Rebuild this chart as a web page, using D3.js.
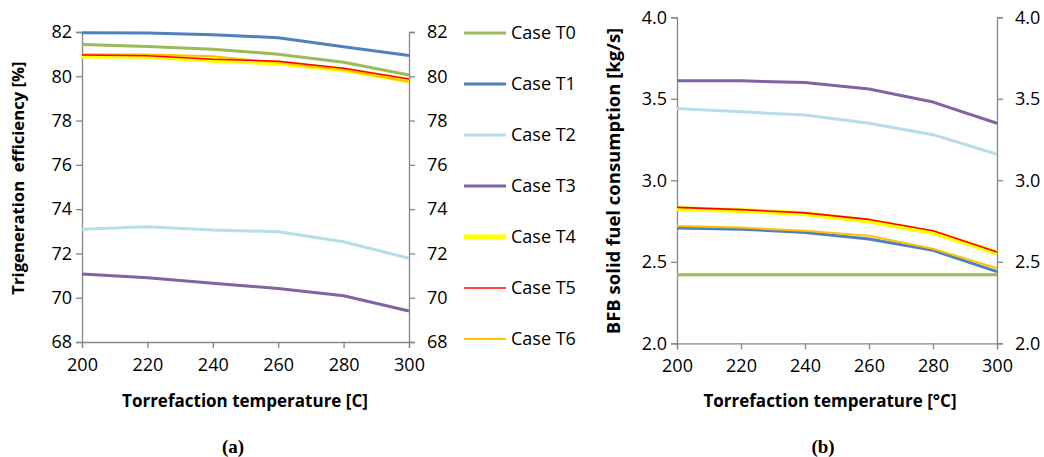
<!DOCTYPE html>
<html>
<head>
<meta charset="utf-8">
<script src="https://cdn.jsdelivr.net/npm/d3@7"></script>
<style>
  body { margin: 0; background: #fff; }
  svg { display: block; }
</style>
</head>
<body>
<svg id="chart" width="1044" height="457"></svg>
<script>
// torrefaction temperature
const temps = [200, 220, 240, 260, 280, 300];
const caseNames = ["Case T0", "Case T1", "Case T2", "Case T3", "Case T4", "Case T5", "Case T6"];

// (a) trigeneration efficiency [%]
const effT0 = [81.44, 81.34, 81.22, 81.0, 80.63, 80.06];
const effT1 = [81.97, 81.95, 81.88, 81.74, 81.33, 80.94];
const effT2 = [73.09, 73.21, 73.06, 72.98, 72.53, 71.78];
const effT3 = [71.07, 70.9, 70.65, 70.42, 70.09, 69.4];
const effT4 = [80.92, 80.9, 80.72, 80.6, 80.3, 79.8];
const effT5 = [80.96, 80.93, 80.77, 80.68, 80.36, 79.88];
const effT6 = [81.0, 80.98, 80.9, 80.62, 80.3, 79.75];

// (b) BFB solid fuel consumption [kg/s]
const fuelT0 = [2.42, 2.42, 2.42, 2.42, 2.42, 2.42];
const fuelT1 = [2.707, 2.70, 2.68, 2.64, 2.57, 2.44];
const fuelT2 = [3.44, 3.42, 3.40, 3.35, 3.28, 3.16];
const fuelT3 = [3.61, 3.61, 3.60, 3.56, 3.48, 3.35];
const fuelT4 = [2.825, 2.815, 2.795, 2.75, 2.68, 2.555];
const fuelT5 = [2.834, 2.82, 2.80, 2.76, 2.69, 2.56];
const fuelT6 = [2.72, 2.71, 2.69, 2.66, 2.58, 2.46];

const effTicks = [68, 70, 72, 74, 76, 78, 80, 82];
const fuelTicks = [2.0, 2.5, 3.0, 3.5, 4.0];

const colors = ["#9BBB59", "#4F81BD", "#B7DDE8", "#8064A2", "#FFFF00", "#FF0000", "#FFC000"];
const widths = [3, 3, 3, 3, 5, 1.6, 2];
// drawing order so thin lines stay on top
const order = [2, 3, 0, 1, 4, 6, 5];

const svg = d3.select("#chart");
const axisColor = "#868686";
const font = "'Open Sans', 'Noto Sans', sans-serif";

function drawPanel(cfg) {
  const x = d3.scaleLinear().domain([200, 300]).range([cfg.left, cfg.right]);
  const y = d3.scaleLinear().domain(cfg.domain).range([cfg.bottom, cfg.top]);
  const g = svg.append("g");

  const styleAxis = sel => {
    sel.select(".domain").attr("stroke", axisColor).attr("stroke-width", 1.3);
    sel.selectAll(".tick line").attr("stroke", axisColor).attr("stroke-width", 1.3);
    sel.selectAll(".tick text").attr("fill", "#000").style("font-family", font).style("font-size", "18px");
  };

  g.append("g").attr("transform", `translate(${cfg.left},0)`)
    .call(d3.axisLeft(y).tickValues(cfg.ticks).tickFormat(cfg.fmt).tickSizeOuter(0).tickSize(6).tickPadding(4))
    .call(styleAxis);
  g.append("g").attr("transform", `translate(${cfg.right},0)`)
    .call(d3.axisRight(y).tickValues(cfg.ticks).tickFormat(cfg.fmt).tickSizeOuter(0).tickSize(6).tickPadding(12))
    .call(styleAxis);
  g.append("g").attr("transform", `translate(0,${cfg.bottom})`)
    .call(d3.axisBottom(x).tickValues(temps).tickSizeOuter(0).tickSize(6).tickPadding(10))
    .call(styleAxis);

  const line = d3.line().x((d, i) => x(temps[i])).y(d => y(d));
  order.forEach(k => {
    g.append("path").datum(cfg.series[k])
      .attr("fill", "none")
      .attr("stroke", colors[k])
      .attr("stroke-width", widths[k])
      .attr("stroke-linejoin", "round")
      .attr("d", line);
  });

  g.append("text")
    .attr("x", cfg.xTitleX).attr("y", 407)
    .attr("text-anchor", "middle")
    .style("font-family", font).style("font-size", "17px").style("font-weight", "bold")
    .text(cfg.xTitle);
  g.append("text")
    .attr("transform", `translate(${cfg.yTitleX},${cfg.yTitleY}) rotate(-90)`)
    .attr("text-anchor", "middle")
    .style("font-family", font).style("font-size", cfg.yTitleSize).style("font-weight", "bold")
    .style("white-space", "pre")
    .text(cfg.yTitle);
  g.append("text")
    .attr("x", cfg.labelX).attr("y", 453)
    .attr("text-anchor", "middle")
    .style("font-family", "'Liberation Serif', serif").style("font-size", "19px").style("font-weight", "bold")
    .text(cfg.label);
}

drawPanel({
  left: 82, right: 409, top: 32, bottom: 342,
  domain: [68, 82], ticks: effTicks, fmt: d3.format("d"),
  series: [effT0, effT1, effT2, effT3, effT4, effT5, effT6],
  xTitle: "Torrefaction temperature [C]", xTitleX: 245,
  yTitle: "Trigeneration  efficiency [%]", yTitleX: 24, yTitleY: 178, yTitleSize: "16.7px",
  label: "(a)", labelX: 233
});

drawPanel({
  left: 677, right: 997, top: 17.3, bottom: 343.3,
  domain: [2, 4], ticks: fuelTicks, fmt: d3.format(".1f"),
  series: [fuelT0, fuelT1, fuelT2, fuelT3, fuelT4, fuelT5, fuelT6],
  xTitle: "Torrefaction temperature [°C]", xTitleX: 830,
  yTitle: "BFB solid fuel consumption [kg/s]", yTitleX: 620, yTitleY: 181, yTitleSize: "18.5px",
  label: "(b)", labelX: 823
});

// legend
const legendY = d3.scalePoint().domain(caseNames).range([33, 339]);
const leg = svg.append("g");
caseNames.forEach((name, k) => {
  leg.append("line")
    .attr("x1", 464).attr("x2", 506)
    .attr("y1", legendY(name)).attr("y2", legendY(name))
    .attr("stroke", colors[k]).attr("stroke-width", widths[k]);
  leg.append("text")
    .attr("x", 511).attr("y", legendY(name)).attr("dy", "0.35em")
    .style("font-family", font).style("font-size", "18px")
    .text(name);
});
</script>
</body>
</html>
